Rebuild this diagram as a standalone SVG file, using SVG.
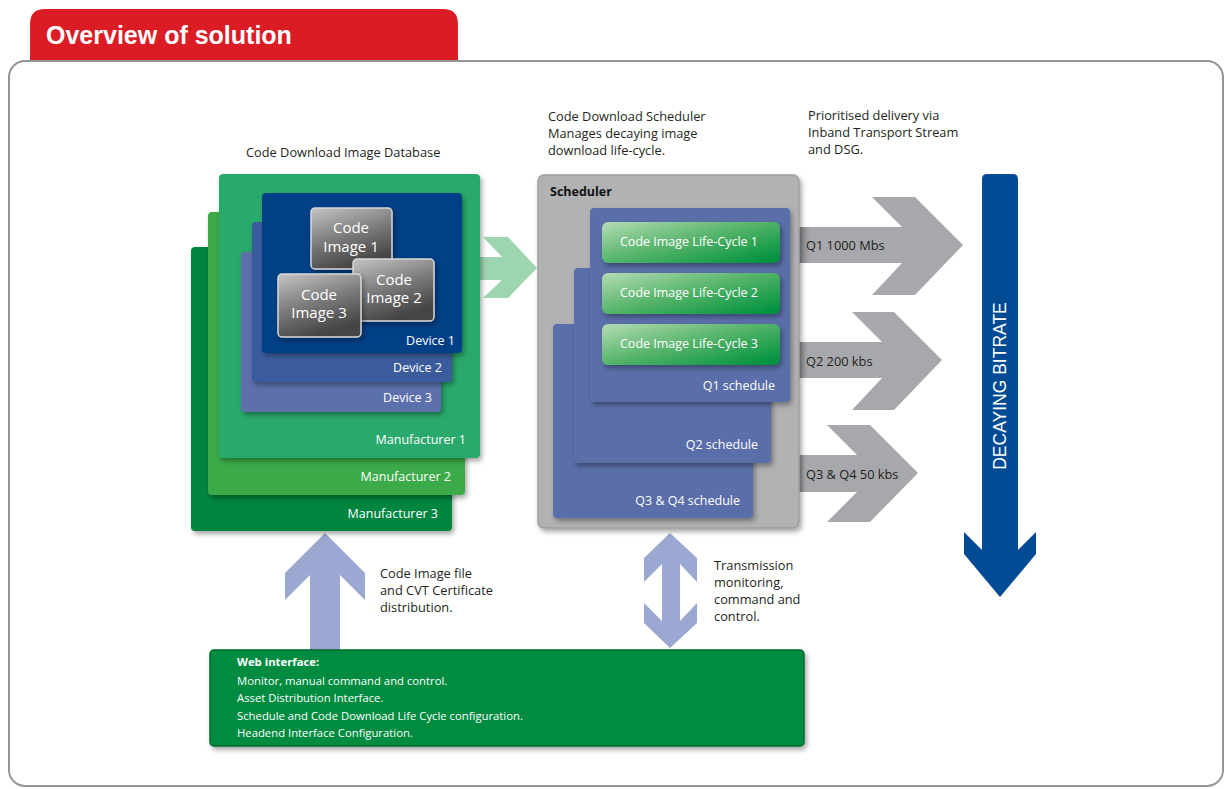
<svg xmlns="http://www.w3.org/2000/svg" width="1225" height="789" viewBox="0 0 1225 789">
<defs>
<style>
text{font-family:"Open Sans","Liberation Sans",Arial,sans-serif;}
.hd{font-family:"Liberation Sans",Arial,sans-serif;}
.w{fill:#ffffff;}
.k{fill:#231f20;}
.t13{font-size:12.5px;}
.t12{font-size:12.8px;}
.t11{font-size:11.3px;}
.ci{font-size:15px;fill:#ffffff;text-anchor:middle;}
.lc{font-size:12.5px;fill:#ffffff;text-anchor:middle;}
.r{text-anchor:end;}
</style>
<filter id="sh" x="-10%" y="-10%" width="125%" height="125%">
<feDropShadow dx="2" dy="3" stdDeviation="2.5" flood-color="#000" flood-opacity="0.35"/>
</filter>
<linearGradient id="gci" x1="0" y1="0" x2="0.4" y2="1">
<stop offset="0" stop-color="#c4c4c4"/>
<stop offset="0.55" stop-color="#7a7a7a"/>
<stop offset="1" stop-color="#454545"/>
</linearGradient>
<linearGradient id="glc" x1="0" y1="0" x2="1" y2="0.9">
<stop offset="0" stop-color="#b5dcb5"/>
<stop offset="0.5" stop-color="#55b46a"/>
<stop offset="1" stop-color="#00923f"/>
</linearGradient>
<linearGradient id="gsh" x1="0" y1="0" x2="1" y2="0">
<stop offset="0" stop-color="#6d6e71"/>
<stop offset="0.12" stop-color="#a7a8ab"/>
<stop offset="1" stop-color="#a7a8ab"/>
</linearGradient>
</defs>

<!-- header and frame -->
<g id="header">
<path d="M30,60 V24 Q30,9 45,9 H443 Q458,9 458,24 V60 Z" fill="#dc1c24"/>
<text class="hd" x="46" y="44" font-size="25" font-weight="bold" fill="#ffffff">Overview of solution</text>
</g>
<rect id="frame" x="9" y="61" width="1214" height="725" rx="16" fill="none" stroke="#939598" stroke-width="2"/>

<!-- top captions -->
<g id="captions">
<text class="k t12" x="246" y="157">Code Download Image Database</text>
<text class="k t12" x="548" y="121">Code Download Scheduler</text>
<text class="k t12" x="548" y="138">Manages decaying image</text>
<text class="k t12" x="548" y="155">download life-cycle.</text>
<text class="k t12" x="808" y="120">Prioritised delivery via</text>
<text class="k t12" x="808" y="137">Inband Transport Stream</text>
<text class="k t12" x="808" y="154">and DSG.</text>
<text class="k t12" x="380" y="578">Code Image file</text>
<text class="k t12" x="380" y="595">and CVT Certificate</text>
<text class="k t12" x="380" y="612">distribution.</text>
<text class="k t12" x="714" y="570">Transmission</text>
<text class="k t12" x="714" y="587">monitoring,</text>
<text class="k t12" x="714" y="604">command and</text>
<text class="k t12" x="714" y="621">control.</text>
</g>

<!-- connectors -->
<g id="connectors">
<polygon points="480,257 502,257 483,237 508,237 537,268 508,298 483,298 502,280 480,280" fill="#9dd5b0"/>
<polygon points="310,650 310,575 285,600 285,573 325,533 365,573 365,600 340,575 340,650" fill="#9aa8d2"/>
<polygon points="670,533 697,558 697,582 680,564 680,621 697,603 697,623 670,648 644,623 644,603 662,621 662,564 644,582 644,558" fill="#9aa8d2"/>
</g>

<!-- manufacturers -->
<g id="manufacturer3">
<rect x="191" y="247" width="261" height="284" rx="4" fill="#00853f" filter="url(#sh)"/>
<text class="w t13 r" x="438" y="518">Manufacturer 3</text>
</g>
<g id="manufacturer2">
<rect x="208" y="212" width="257" height="283" rx="4" fill="#3aaa48" filter="url(#sh)"/>
<text class="w t13 r" x="451" y="481">Manufacturer 2</text>
</g>
<g id="manufacturer1">
<rect x="219" y="174" width="261" height="284" rx="4" fill="#2ba96c" filter="url(#sh)"/>
<text class="w t13 r" x="466" y="444">Manufacturer 1</text>
</g>
<g id="device3">
<rect x="241" y="252" width="200" height="160" rx="4" fill="#5b70ab" filter="url(#sh)"/>
<text class="w t13 r" x="432" y="402">Device  3</text>
</g>
<g id="device2">
<rect x="252" y="222" width="200" height="160" rx="4" fill="#3a5b9c" filter="url(#sh)"/>
<text class="w t13 r" x="442" y="372">Device  2</text>
</g>
<g id="device1">
<rect x="262" y="193" width="200" height="160" rx="4" fill="#003f87" filter="url(#sh)"/>
<text class="w t13 r" x="455" y="345">Device 1</text>
</g>
<g id="codeimage1">
<rect x="311" y="208" width="81" height="61" rx="4" fill="url(#gci)" stroke="#d8d8d8" stroke-width="1.5" filter="url(#sh)"/>
<text class="ci" x="351" y="233">Code</text>
<text class="ci" x="351" y="252">Image 1</text>
</g>
<g id="codeimage2">
<rect x="353" y="259" width="81" height="62" rx="4" fill="url(#gci)" stroke="#d8d8d8" stroke-width="1.5" filter="url(#sh)"/>
<text class="ci" x="394" y="285">Code</text>
<text class="ci" x="394" y="303">Image 2</text>
</g>
<g id="codeimage3">
<rect x="278" y="274" width="83" height="63" rx="4" fill="url(#gci)" stroke="#d8d8d8" stroke-width="1.5" filter="url(#sh)"/>
<text class="ci" x="319" y="300">Code</text>
<text class="ci" x="319" y="318">Image 3</text>
</g>

<!-- delivery arrows -->
<g id="delivery-arrows">
<polygon points="790,227 902,227 872,197 915,197 963,245 915,295 872,295 902,263 790,263" fill="url(#gsh)"/>
<polygon points="790,342 882,342 852,312 894,312 942,360 894,410 852,410 882,378 790,378" fill="url(#gsh)"/>
<polygon points="790,455 857,455 827,425 870,425 918,473 870,522 827,522 857,492 790,492" fill="url(#gsh)"/>
<text class="k t12" x="806" y="250">Q1 1000 Mbs</text>
<text class="k t12" x="806" y="366">Q2 200 kbs</text>
<text class="k t12" x="806" y="479">Q3 &amp; Q4 50 kbs</text>
</g>

<!-- scheduler -->
<g id="scheduler">
<rect x="538" y="175" width="261" height="353" rx="6" fill="#b1b2b4" stroke="#9d9ea1" stroke-width="1.5" filter="url(#sh)"/>
<text x="550" y="196" font-size="12.5" font-weight="bold" fill="#111">Scheduler</text>
</g>
<g id="q34schedule">
<rect x="553" y="324" width="200" height="194" rx="4" fill="#5a6ea9" filter="url(#sh)"/>
<text class="w t13 r" x="740" y="505">Q3 &amp; Q4 schedule</text>
</g>
<g id="q2schedule">
<rect x="574" y="268" width="197" height="195" rx="4" fill="#5a6ea9" filter="url(#sh)"/>
<text class="w t13 r" x="758" y="449">Q2 schedule</text>
</g>
<g id="q1schedule">
<rect x="590" y="208" width="200" height="194" rx="4" fill="#5a6ea9" filter="url(#sh)"/>
<text class="w t13 r" x="775" y="390">Q1 schedule</text>
</g>
<g id="lifecycle1">
<rect x="602" y="222" width="178" height="41" rx="6" fill="url(#glc)" filter="url(#sh)"/>
<text class="lc" x="689" y="246">Code Image Life-Cycle 1</text>
</g>
<g id="lifecycle2">
<rect x="602" y="273" width="178" height="41" rx="6" fill="url(#glc)" filter="url(#sh)"/>
<text class="lc" x="689" y="297">Code Image Life-Cycle 2</text>
</g>
<g id="lifecycle3">
<rect x="602" y="324" width="178" height="41" rx="6" fill="url(#glc)" filter="url(#sh)"/>
<text class="lc" x="689" y="348">Code Image Life-Cycle 3</text>
</g>

<!-- decaying bitrate -->
<g id="decaying-bitrate">
<path d="M982,550 V179 Q982,174 987,174 H1013 Q1018,174 1018,179 V550 L1036,532 V554 L1000,597 L964,554 V532 Z" fill="#004b93"/>
<text class="hd" x="1000" y="386" transform="rotate(-90 1000 386)" text-anchor="middle" dominant-baseline="central" font-size="17.5" fill="#ffffff">DECAYING BITRATE</text>
</g>

<!-- web interface -->
<g id="web-interface">
<rect x="210" y="650" width="594" height="96" rx="4" fill="#008c3f" stroke="#006b30" stroke-width="1.5" filter="url(#sh)"/>
<text class="w t11" x="237" y="666" font-weight="bold">Web interface:</text>
<text class="w t11" x="237" y="685">Monitor, manual command and control.</text>
<text class="w t11" x="237" y="702">Asset Distribution Interface.</text>
<text class="w t11" x="237" y="720">Schedule and Code Download Life Cycle configuration.</text>
<text class="w t11" x="237" y="737">Headend Interface Configuration.</text>
</g>
</svg>
